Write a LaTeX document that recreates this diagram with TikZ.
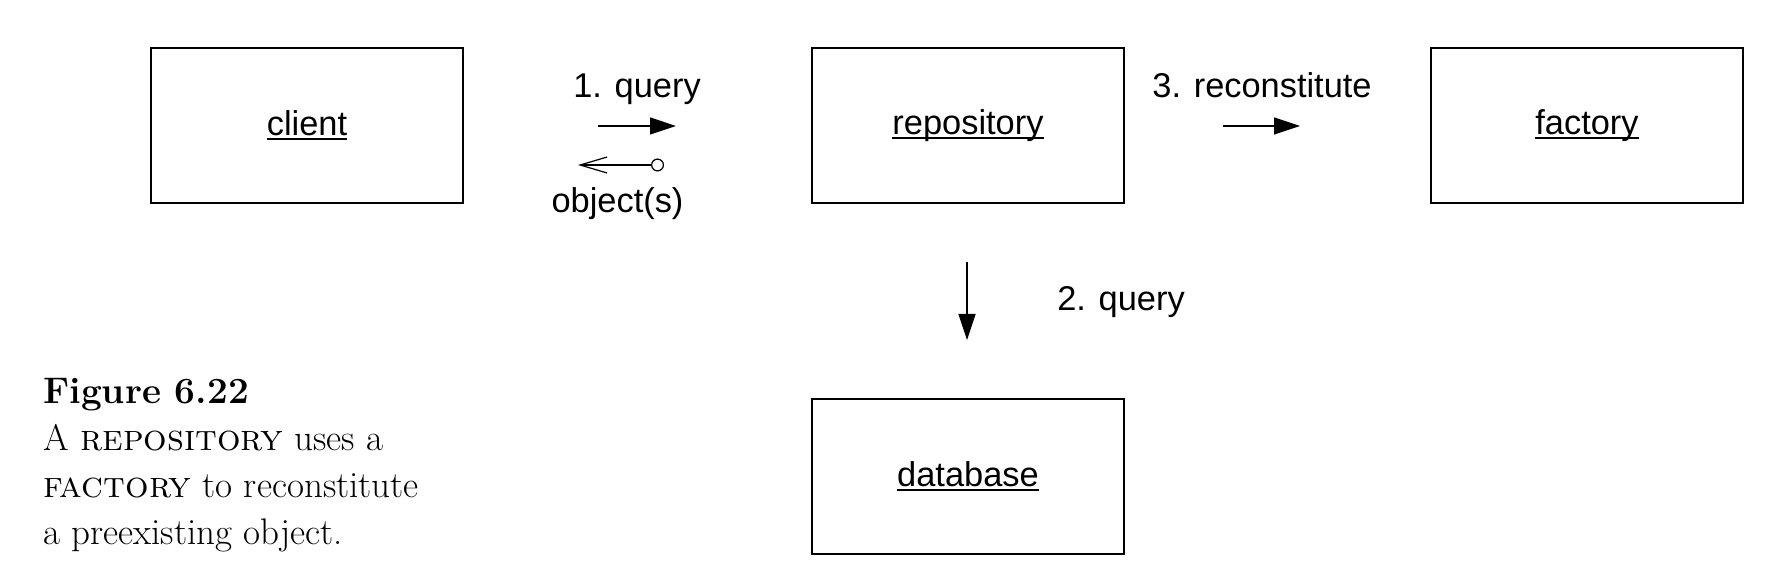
\documentclass[tikz,border=0pt]{standalone}
\usepackage{fontspec}
\setsansfont{Liberation Sans}
\usetikzlibrary{arrows.meta}
\newcommand\ulword[1]{\setbox0=\hbox{#1}\rlap{\rule[-2.2pt]{\wd0}{0.9pt}}\box0}
\begin{document}
\begin{tikzpicture}[x=0.5pt,y=-0.5pt,
  box/.style={draw,line width=1pt,minimum width=156pt,minimum height=77.5pt,inner sep=0pt,font=\sffamily\fontsize{17.2}{20}\selectfont},
  lbl/.style={inner sep=0pt,anchor=base,font=\sffamily\fontsize{17.2}{20}\selectfont},
  captxt/.style={inner sep=0pt,anchor=base west,font=\fontsize{18.5}{20}\selectfont},
  conn/.style={line width=0.6pt},
  solidhead/.style={-{Triangle[length=13pt,width=8.5pt]}},
]
\useasboundingbox (0,0) rectangle (1780,582);
\fill[white] (0,0) rectangle (1780,582);
% boxes
\node[box] (client) at (307,125.5) {\ulword{client}};
\node[box] (repo) at (968,125.5) {\ulword{repository}};
\node[box] (factory) at (1587,125.5) {\ulword{factory}};
\node[box] (db) at (968,476.5) {\ulword{database}};
% labels
\node[lbl] (l1) at (637,98) {1. query};
\node[lbl] (lobj) at (617.5,213) {object(s)};
\node[lbl] (l3) at (1262,98) {3. reconstitute};
\node[lbl] (l2) at (1121,311) {2. query};
% arrows
\coordinate (q1s) at (598,126); \coordinate (q1e) at (676,126);
\draw[conn,solidhead] (q1s) -- (q1e);
\coordinate (oe) at (578,165); \coordinate (os) at (664,165);
\draw[conn,{Straight Barb[length=13.5pt,width=8pt]}-{Circle[open,length=6.5pt,width=6.5pt]}] (oe) -- (os);
\coordinate (r3s) at (1223,126); \coordinate (r3e) at (1300,126);
\draw[conn,solidhead] (r3s) -- (r3e);
\coordinate (q2s) at (967,262); \coordinate (q2e) at (967,340);
\draw[conn,solidhead] (q2s) -- (q2e);
% caption
\node[captxt,font=\bfseries\fontsize{18.5}{20}\selectfont] (fig) at (43,403) {Figure 6.22};
\node[captxt] (c1) at (43,450) {A \textsc{repository} uses a};
\node[captxt] (c2) at (43,497) {\textsc{factory} to reconstitute};
\node[captxt] (c3) at (43,544) {a preexisting object.};
\end{tikzpicture}
\end{document}
